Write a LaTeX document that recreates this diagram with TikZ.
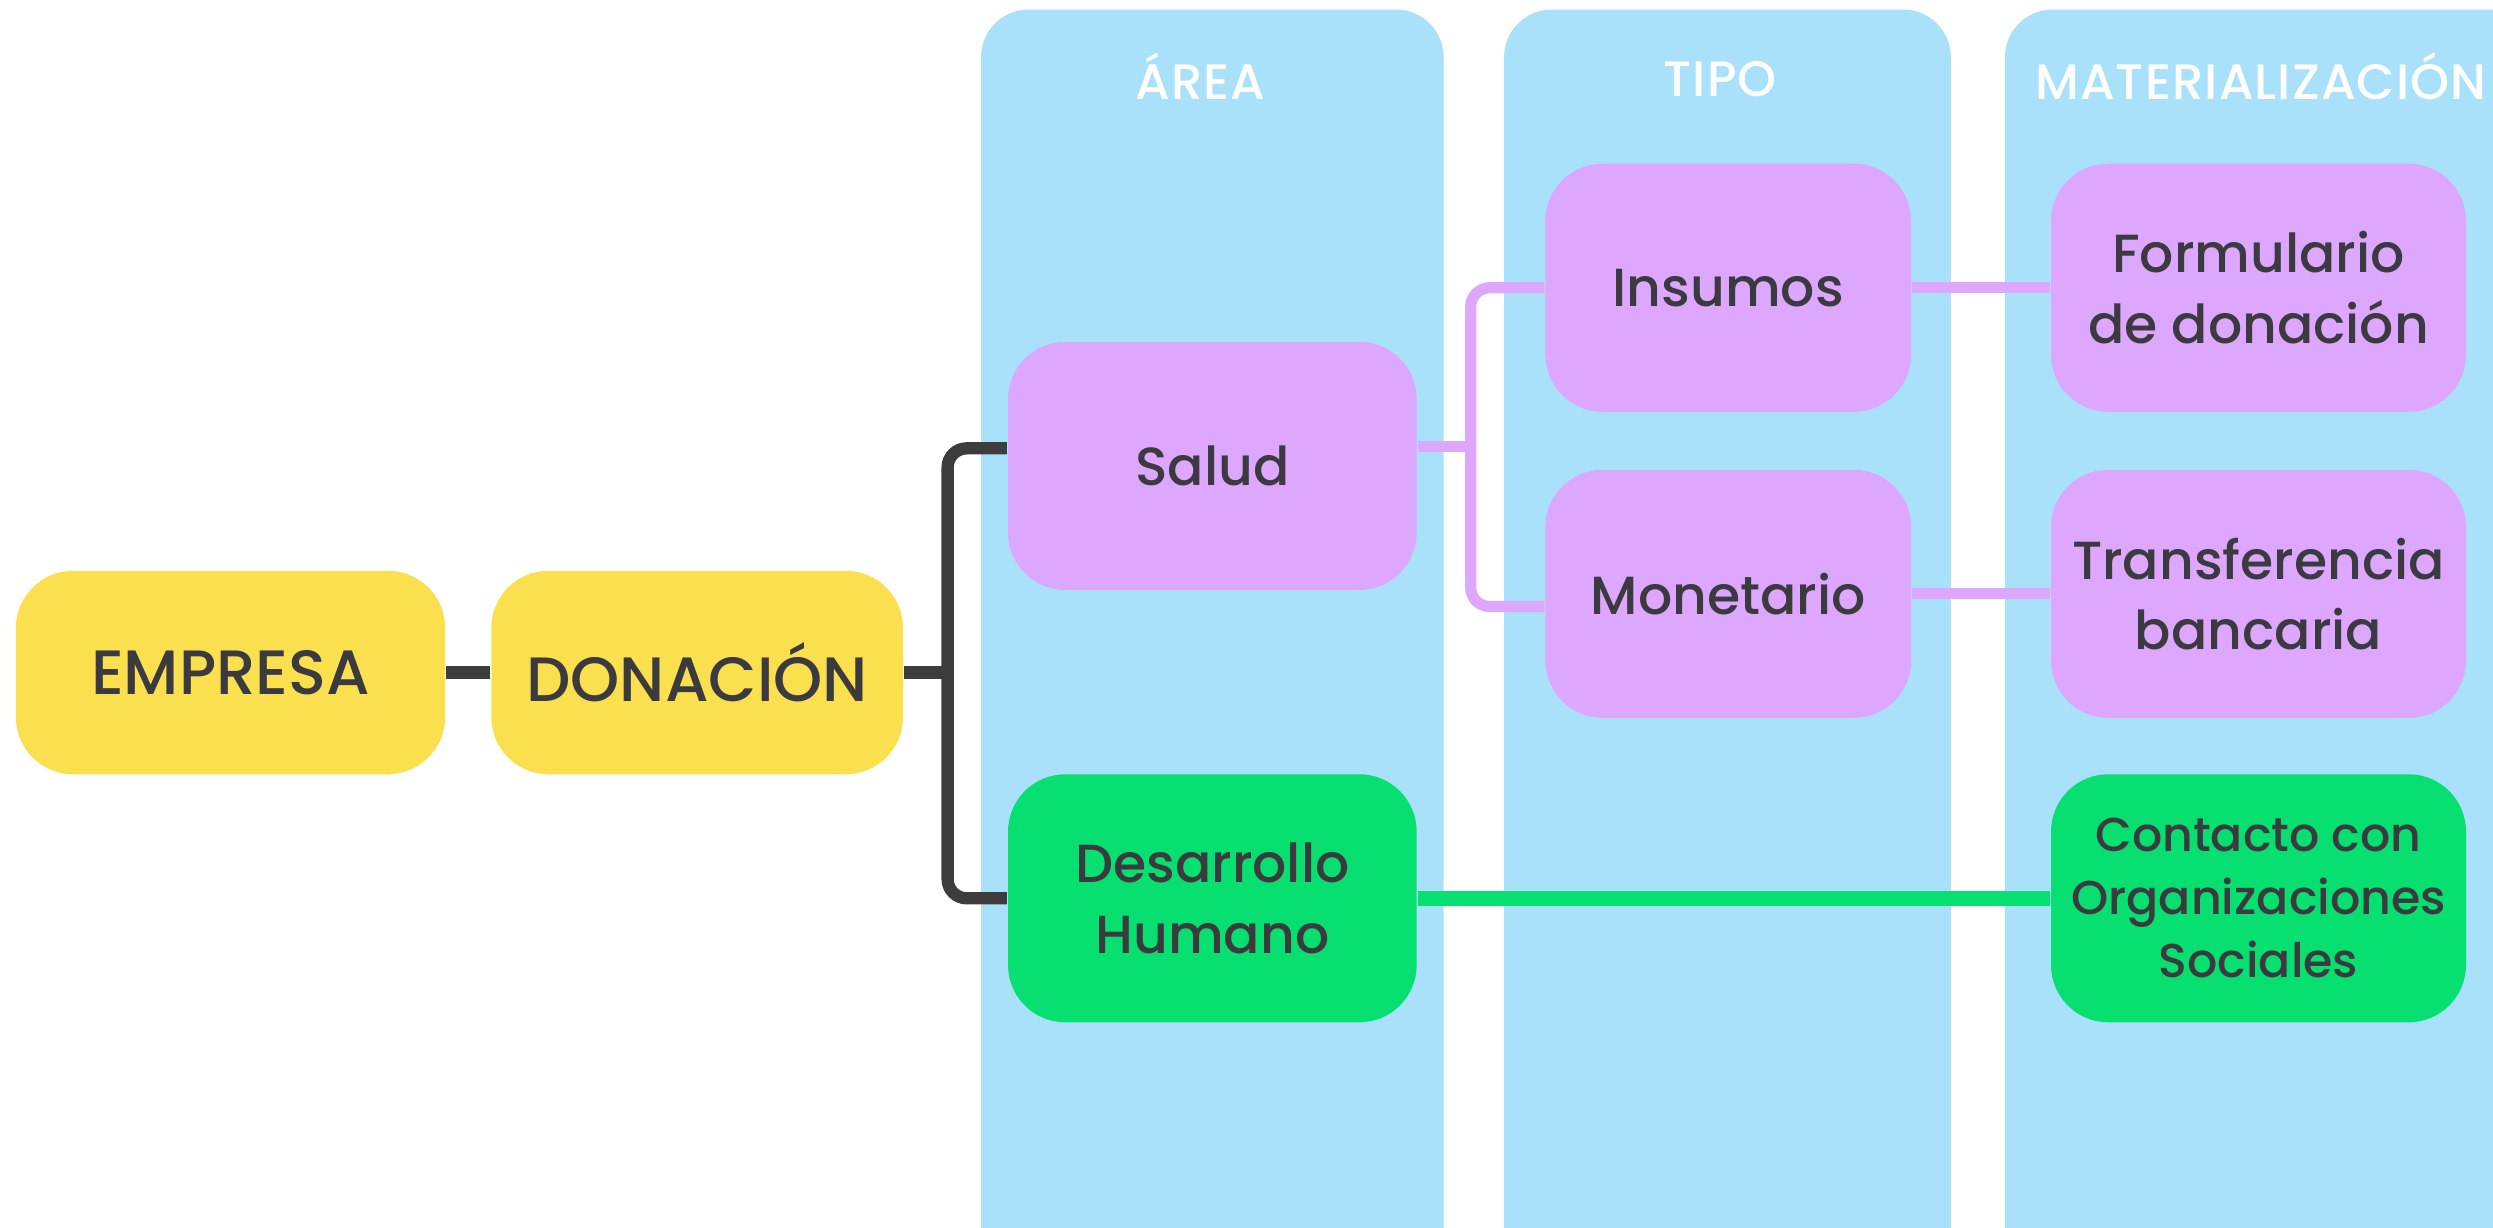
\documentclass[tikz,border=0pt]{standalone}
\usepackage{fontspec}
\setmainfont{Poppins}[UprightFont={* Medium}]
\newfontfamily\titlefont{Poppins}[UprightFont={* Medium}, LetterSpace=2.2]
\usetikzlibrary{positioning}
\definecolor{columnblue}{HTML}{AAE1FA}
\definecolor{boxyellow}{HTML}{FADF4E}
\definecolor{boxpink}{HTML}{DDA6FF}
\definecolor{boxgreen}{HTML}{07E070}
\definecolor{textdark}{HTML}{3B3A3F}
\definecolor{linedark}{HTML}{3D3D3D}
\tikzset{
  box/.style={rectangle, rounded corners=0.36cm, inner sep=0pt, align=center, text=textdark, font=\fontsize{9.6}{12.6}\selectfont},
  yellowbox/.style={box, fill=boxyellow, minimum height=1.28cm, font=\fontsize{11.2}{13}\selectfont},
  pinkbox/.style={box, fill=boxpink, minimum height=1.56cm},
  greenbox/.style={box, fill=boxgreen, minimum height=1.56cm},
  column/.style={fill=columnblue, rounded corners=0.3cm},
  coltitle/.style={text=white, font=\titlefont\fontsize{8.9}{10}\selectfont},
  darkline/.style={draw=linedark, line width=2.2pt},
  pinkline/.style={draw=boxpink, line width=2pt},
  greenline/.style={draw=boxgreen, line width=2.6pt}
}
\begin{document}
\begin{tikzpicture}
    \useasboundingbox (0,0) rectangle (15.68,-7.72);
    \clip (0,0) rectangle (15.68,-7.72);

    \fill[column] (6.17,-0.06) rectangle (9.08,-8.2);
    \fill[column] (9.46,-0.06) rectangle (12.27,-8.2);
    \fill[column] (12.61,-0.06) rectangle (16.2,-8.2);

    \node[coltitle] (areatitle) at (7.55,-0.48) {ÁREA};
    \node[coltitle] (tipotitle) at (10.82,-0.50) {TIPO};
    \node[coltitle] (mattitle) at (14.22,-0.48) {MATERIALIZACIÓN};

    \node[yellowbox, minimum width=2.70cm] (empresa) at (1.45,-4.23) {EMPRESA};
    \node[yellowbox, minimum width=2.59cm] (donacion) at (4.385,-4.23) {DONACIÓN};
    \node[pinkbox, minimum width=2.57cm] (salud) at (7.625,-2.93) {Salud};
    \node[greenbox, minimum width=2.57cm] (desarrollo) at (7.625,-5.65) {Desarrollo\\Humano};
    \node[pinkbox, minimum width=2.30cm] (insumos) at (10.87,-1.81) {Insumos};
    \node[pinkbox, minimum width=2.30cm] (monetario) at (10.87,-3.735) {Monetario};
    \node[pinkbox, minimum width=2.61cm] (formulario) at (14.205,-1.81) {Formulario\\de donación};
    \node[pinkbox, minimum width=2.61cm] (transferencia) at (14.205,-3.735) {Transferencia\\bancaria};
    \node[greenbox, minimum width=2.61cm, font=\fontsize{8.5}{11.3}\selectfont] (contacto) at (14.205,-5.65) {Contacto con\\Organizaciones\\Sociales};

    \coordinate (donjoin) at (5.96,-4.23);
    \coordinate (saludjoin) at (9.25,-2.81);

    \draw[darkline] (empresa) -- (donacion);
    \draw[darkline] (donacion) -- (donjoin);
    \draw[darkline, rounded corners=0.12cm] ([yshift=0.11cm]salud.west) -| (donjoin) |- (desarrollo.west);
    \draw[pinkline] ([yshift=0.12cm]salud.east) -- (saludjoin);
    \draw[pinkline, rounded corners=0.12cm] (insumos.west) -| (saludjoin) |- ([yshift=-0.08cm]monetario.west);
    \draw[pinkline] (insumos) -- (formulario);
    \draw[pinkline] (monetario) -- (transferencia);
    \draw[greenline] (desarrollo) -- (contacto);
  \end{tikzpicture}
\end{document}
